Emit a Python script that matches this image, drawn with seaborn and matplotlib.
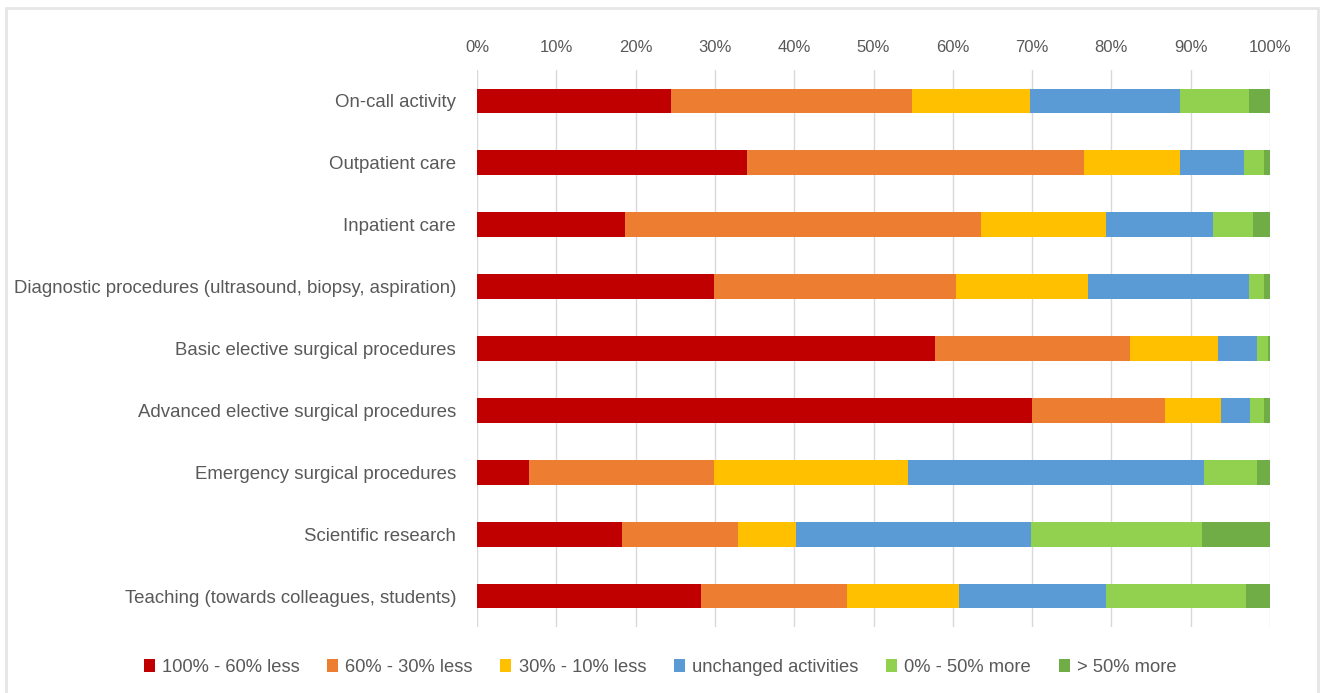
import numpy as np
import pandas as pd
import seaborn as sns
import matplotlib.pyplot as plt
from matplotlib.patches import Rectangle, Patch

# ----------------------------------------
# Data (share of respondents, % per activity)
# ----------------------------------------

activities = [
    "On-call activity",
    "Outpatient care",
    "Inpatient care",
    "Diagnostic procedures (ultrasound, biopsy, aspiration)",
    "Basic elective surgical procedures",
    "Advanced elective surgical procedures",
    "Emergency surgical procedures",
    "Scientific research",
    "Teaching (towards colleagues, students)",
]

levels = ["100% - 60% less", "60% - 30% less", "30% - 10% less",
          "unchanged activities", "0% - 50% more", "> 50% more"]

less_60_100 = [24.5, 34.0, 18.7, 29.9, 57.8, 70.0, 6.6, 18.3, 28.2]
less_30_60 = [30.3, 42.5, 44.8, 30.5, 24.6, 16.7, 23.3, 14.6, 18.4]
less_10_30 = [14.9, 12.2, 15.8, 16.7, 11.0, 7.1, 24.4, 7.3, 14.2]
unchanged = [18.9, 8.0, 13.5, 20.3, 4.9, 3.7, 37.4, 29.7, 18.5]
more_0_50 = [8.8, 2.6, 5.1, 1.8, 1.4, 1.7, 6.7, 21.5, 17.7]
more_50 = [2.6, 0.7, 2.1, 0.8, 0.3, 0.8, 1.6, 8.6, 3.0]

colors = ["#C00000", "#ED7D31", "#FFC000", "#5B9BD5", "#92D050", "#70AD47"]

df = pd.DataFrame({
    "activity": activities,
    levels[0]: less_60_100,
    levels[1]: less_30_60,
    levels[2]: less_10_30,
    levels[3]: unchanged,
    levels[4]: more_0_50,
    levels[5]: more_50,
})

# 100% stacked: normalise each row, then cumulative sums
vals = df[levels].to_numpy()
vals = vals / vals.sum(axis=1, keepdims=True) * 100
cum = np.cumsum(vals, axis=1)

# ----------------------------------------
# Plot
# ----------------------------------------

sns.set_style("white")
plt.rcParams['font.family'] = ['Liberation Sans', 'DejaVu Sans']

fig = plt.figure(figsize=(13.2, 6.93), dpi=100)
ax = fig.add_axes([477 / 1320, 1 - 627 / 693, 793 / 1320, 557 / 693])

# draw largest cumulative first so smaller ones cover it
for i in range(len(levels) - 1, -1, -1):
    plot_df = pd.DataFrame({"activity": activities, "value": cum[:, i]})
    sns.barplot(data=plot_df, x="value", y="activity", orient="h",
                color=colors[i], width=0.4, saturation=1,
                linewidth=0, ax=ax, zorder=3)

ax.set_xlim(0, 100)
ax.set_ylim(len(activities) - 0.5, -0.5)
ax.set_xticks(np.arange(0, 101, 10))
ax.set_xticklabels([f"{t}%" for t in range(0, 101, 10)])
ax.xaxis.tick_top()
ax.tick_params(axis='x', length=0, pad=11, labelsize=12, labelcolor="#595959")
ax.tick_params(axis='y', length=0, pad=15, labelsize=13.4, labelcolor="#595959")
ax.set_xlabel("")
ax.set_ylabel("")
ax.grid(axis='x', color="#D9D9D9", linewidth=1, zorder=0)
ax.set_axisbelow(True)
for s in ax.spines.values():
    s.set_visible(False)

# legend
handles = [Patch(facecolor=c, edgecolor='none') for c in colors]
fig.legend(handles, levels, loc='center', bbox_to_anchor=(0.5, 1 - 667 / 693),
           ncol=6, frameon=False, fontsize=13.2, handlelength=0.6,
           handleheight=0.72, handletextpad=0.4, columnspacing=1.5,
           labelcolor="#595959")

# chart border
fig.patches.append(Rectangle((6 / 1320, -0.05), 1312 / 1320, 1 - 8 / 693 + 0.05,
                             transform=fig.transFigure, fill=False,
                             edgecolor="#E6E6E6", linewidth=2))

fig.savefig("out.png", dpi=100)
